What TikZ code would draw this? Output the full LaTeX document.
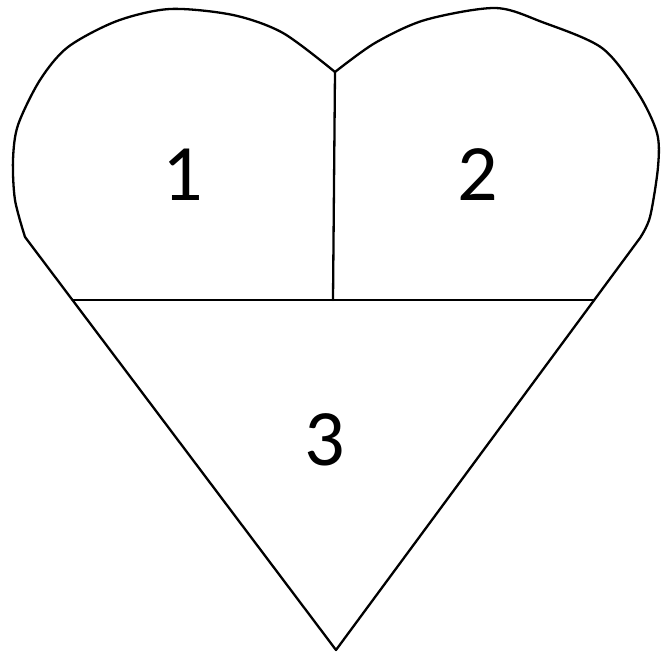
\documentclass[tikz,border=0pt]{standalone}
\usepackage{fontspec}
\setmainfont{Carlito}
\begin{document}
\begin{tikzpicture}[x=1pt,y=-1pt,
  edge/.style={draw=black,line width=2.3pt,line join=round,line cap=round},
  num/.style={font=\fontsize{80}{80}\selectfont,inner sep=0pt,anchor=center}]
\useasboundingbox (0,0) rectangle (665,652);
\coordinate (notch) at (335,72);
\coordinate (lc) at (25,237);
\coordinate (rc) at (640,238);
\coordinate (bot) at (336,650);
% outline
\draw[edge] plot[smooth,tension=0.5] coordinates {(25,237) (15,200) (13,160) (18,125) (40,80) (68,47) (117,21) (170,9) (233,15) (283,33) (335,72)};
\draw[edge] plot[smooth,tension=0.5] coordinates {(335,72) (375,43) (425,20) (495,8) (542,22) (602,48) (638,93) (657,133) (658,167) (650,217) (640,238)};
\draw[edge] (lc) -- (bot) -- (rc);
\coordinate (hl) at (72.4,300);
\coordinate (hr) at (594.3,300);
\coordinate (vb) at (333,300);
\draw[edge] (hl) -- (hr);
\draw[edge] (notch) -- (vb);
\node[num] (n1) at (183,175) {1};
\node[num] (n2) at (478,175) {2};
\node[num] (n3) at (325,440) {3};
\end{tikzpicture}
\end{document}
